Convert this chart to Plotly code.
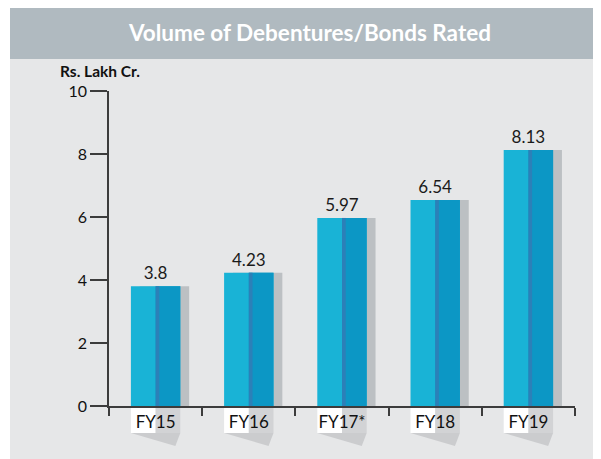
import plotly.graph_objects as go

categories = ["FY15", "FY16", "FY17*", "FY18", "FY19"]
values = [3.8, 4.23, 5.97, 6.54, 8.13]
value_labels = ["3.8", "4.23", "5.97", "6.54", "8.13"]
y_ticks = [0, 2, 4, 6, 8, 10]

W, H = 601, 459
OFF = 8  # page body margin in the browser
# target plot area in window pixels: x 109..575, y 91..406
PL, PT, PW, PH = 109, 91, 466, 315
L, T = PL - OFF, PT - OFF
R, B = W - L - PW, H - T - PH

def px_x(px):
    return (px - PL) / PW

def px_y(py):
    return (PT + PH - py) / PH

BAR_W = 0.53
HALF = BAR_W / 2
FONT = "Lato, 'Open Sans', sans-serif"

fig = go.Figure()

# shadow behind bars
fig.add_trace(go.Bar(x=categories, y=values, width=BAR_W, offset=-HALF + 0.095,
                     marker=dict(color="#BCC0C3", line=dict(width=0)),
                     hoverinfo="skip", showlegend=False))
# main bar (left, lighter tone)
fig.add_trace(go.Bar(x=categories, y=values, width=BAR_W,
                     marker=dict(color="#19B3D6", line=dict(width=0)),
                     text=value_labels, textposition="outside", cliponaxis=False,
                     textfont=dict(family=FONT, size=17, color="#1a1a1a"),
                     showlegend=False))
# right half (darker tone)
fig.add_trace(go.Bar(x=categories, y=values, width=HALF, offset=0,
                     marker=dict(color="#0C97C5", line=dict(width=0)),
                     hoverinfo="skip", showlegend=False))
# dark stripe at middle
fig.add_trace(go.Bar(x=categories, y=values, width=0.04, offset=0,
                     marker=dict(color="#2C80B8", line=dict(width=0)),
                     hoverinfo="skip", showlegend=False))

shapes = [
    # light gray panel
    dict(type="rect", xref="paper", yref="paper", x0=px_x(10), x1=px_x(W + 20),
         y0=px_y(H + 20), y1=px_y(59), fillcolor="#E6E7E8", line=dict(width=0), layer="below"),
    # header band
    dict(type="rect", xref="paper", yref="paper", x0=px_x(10), x1=px_x(W + 20),
         y0=px_y(59), y1=px_y(7), fillcolor="#B0BAC0", line=dict(width=0), layer="below"),
]

n = len(categories)
box_top, box_bot, sh_bot = px_y(407), px_y(433), px_y(446)
for i in range(n):
    cx = (i + 0.5) / n
    hw = HALF / n
    shapes.append(dict(type="rect", xref="paper", yref="paper", x0=cx - hw, x1=cx,
                       y0=box_bot, y1=box_top, fillcolor="#FFFFFF", line=dict(width=0), layer="below"))
    shapes.append(dict(type="rect", xref="paper", yref="paper", x0=cx, x1=cx + hw,
                       y0=box_bot, y1=box_top, fillcolor="#D2D3D5", line=dict(width=0), layer="below"))
    path = "M {a},{b} L {c},{b} L {d},{e} Z".format(a=cx - hw, b=box_bot, c=cx + hw,
                                                     d=cx + hw * 0.8, e=sh_bot)
    shapes.append(dict(type="path", xref="paper", yref="paper", path=path,
                       fillcolor="#CBCCCE", line=dict(width=0), layer="below"))

fig.update_layout(
    width=W, height=H,
    margin=dict(l=L, r=R, t=T, b=B, pad=0),
    paper_bgcolor="#FFFFFF", plot_bgcolor="rgba(0,0,0,0)",
    barmode="overlay",
    shapes=shapes,
    font=dict(family=FONT, size=16, color="#1a1a1a"),
    annotations=[
        dict(text="<b>Volume of Debentures/Bonds Rated</b>", xref="paper", yref="paper",
             x=px_x(309), y=px_y(33), xanchor="center", yanchor="middle", showarrow=False,
             font=dict(family=FONT, size=22.5, color="#FFFFFF")),
        dict(text="<b>Rs. Lakh Cr.</b>", xref="paper", yref="paper",
             x=px_x(58), y=px_y(71), xanchor="left", yanchor="middle", showarrow=False,
             font=dict(family=FONT, size=15.5, color="#111111")),
    ],
    xaxis=dict(type="category", showline=True, linecolor="#3C3C3C", linewidth=1.5,
               ticks="outside", tickson="boundaries", ticklen=8, tickwidth=1.5,
               tickcolor="#3C3C3C", showgrid=False, zeroline=False,
               tickfont=dict(family=FONT, size=17, color="#111111"), fixedrange=True),
    yaxis=dict(range=[0, 10], tickvals=y_ticks, showline=True, linecolor="#3C3C3C",
               linewidth=1.5, ticks="outside", ticklen=17, tickwidth=1.5,
               tickcolor="#3C3C3C", showgrid=False, zeroline=False,
               tickfont=dict(family=FONT, size=16, color="#111111"), fixedrange=True),
)

fig.write_html("out.html")
